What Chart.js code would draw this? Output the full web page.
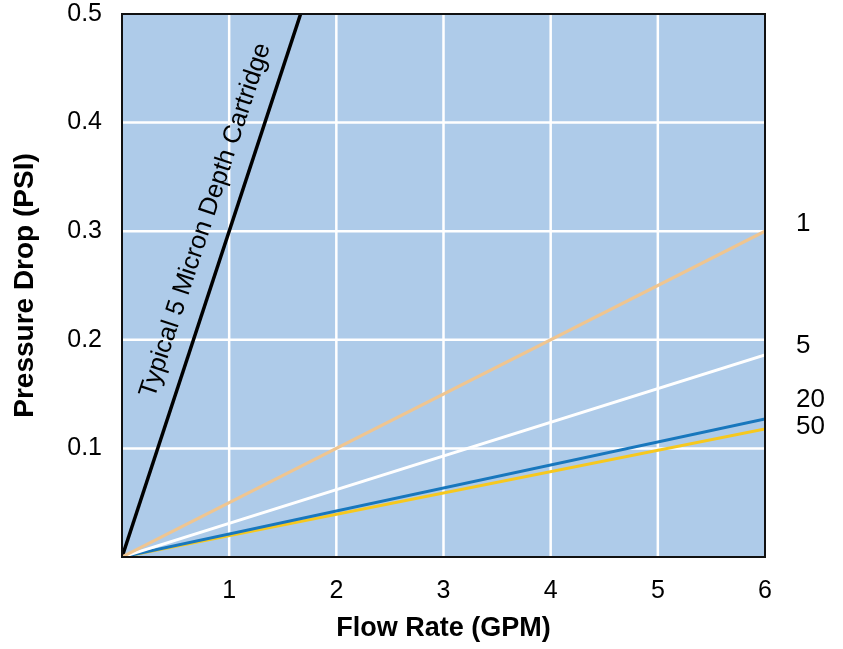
<!DOCTYPE html>
<html>
<head>
<meta charset="utf-8">
<script src="https://cdn.jsdelivr.net/npm/chart.js@4.4.1/dist/chart.umd.min.js"></script>
<style>
html,body{margin:0;padding:0;background:#fff;}
#wrap{width:843px;height:649px;}
</style>
</head>
<body>
<div id="wrap"><canvas id="c" width="843" height="649"></canvas></div>
<script>
// ---- data ----
const flowRate = [0, 6];                       // GPM
const seriesNames = ['1', '5', '20', '50'];    // micron ratings
const series1 = [0, 0.300];
const series5 = [0, 0.186];
const series20 = [0, 0.127];
const series50 = [0, 0.118];
const depthFlow = [0, 5 / 3];
const depthPressure = [0, 0.5];
const depthLabel = 'Typical 5 Micron Depth Cartridge';
const seriesLabelValues = [0.307, 0.194, 0.145, 0.120];
const xTickLabels = ['', '1', '2', '3', '4', '5', '6'];
const yTickLabels = ['', '0.1', '0.2', '0.3', '0.4', '0.5'];

const FONT = "'Liberation Sans', Arial, Helvetica, sans-serif";
const toPts = (xs, ys) => xs.map((x, i) => ({x: x, y: ys[i]}));

const seriesColors = ['#efc590', '#ffffff', '#1877bd', '#f6c81e'];
const seriesData = [series1, series5, series20, series50];

const datasets = seriesData.map((d, i) => ({
  label: seriesNames[i],
  data: toPts(flowRate, d),
  borderColor: seriesColors[i],
  borderWidth: 3,
  pointRadius: 0,
  showLine: true,
  fill: false
}));
datasets.push({
  label: depthLabel,
  data: toPts(depthFlow, depthPressure),
  borderColor: '#000000',
  borderWidth: 3.5,
  pointRadius: 0,
  showLine: true,
  fill: false
});

const decor = {
  id: 'decor',
  beforeDatasetsDraw(chart) {
    const {ctx, chartArea: a} = chart;
    ctx.save();
    ctx.fillStyle = '#aecbe9';
    ctx.fillRect(a.left, a.top, a.right - a.left, a.bottom - a.top);
    // grid
    const xs = chart.scales.x, ys = chart.scales.y;
    ctx.strokeStyle = '#ffffff';
    ctx.lineWidth = 2.5;
    for (let v = 1; v < 6; v++) {
      const px = xs.getPixelForValue(v);
      ctx.beginPath(); ctx.moveTo(px, a.top); ctx.lineTo(px, a.bottom); ctx.stroke();
    }
    for (let v = 1; v < 5; v++) {
      const py = ys.getPixelForValue(v / 10);
      ctx.beginPath(); ctx.moveTo(a.left, py); ctx.lineTo(a.right, py); ctx.stroke();
    }
    ctx.restore();
  },
  afterDatasetsDraw(chart) {
    const {ctx, chartArea: a} = chart;
    const xs = chart.scales.x, ys = chart.scales.y;
    ctx.save();
    ctx.strokeStyle = '#111';
    ctx.lineWidth = 2;
    ctx.strokeRect(a.left, a.top, a.right - a.left, a.bottom - a.top);
    // series labels on right
    ctx.fillStyle = '#000';
    ctx.font = '26px ' + FONT;
    ctx.textAlign = 'left';
    ctx.textBaseline = 'middle';
    seriesNames.forEach((n, i) => {
      ctx.fillText(n, a.right + 31, ys.getPixelForValue(seriesLabelValues[i]));
    });
    // rotated depth cartridge label
    const x0 = xs.getPixelForValue(depthFlow[0]), y0 = ys.getPixelForValue(depthPressure[0]);
    const x1 = xs.getPixelForValue(depthFlow[1]), y1 = ys.getPixelForValue(depthPressure[1]);
    const ang = Math.atan2(y1 - y0, x1 - x0);
    const cx = xs.getPixelForValue(0.78), cy = ys.getPixelForValue(0.31);
    ctx.translate(cx, cy);
    ctx.rotate(ang);
    ctx.font = '25.5px ' + FONT;
    ctx.textAlign = 'center';
    ctx.textBaseline = 'middle';
    ctx.fillText(depthLabel, 0, 0);
    ctx.restore();
  }
};

new Chart(document.getElementById('c'), {
  type: 'scatter',
  data: {datasets},
  plugins: [decor],
  options: {
    responsive: false,
    animation: false,
    devicePixelRatio: 1,
    layout: {padding: {left: 8, right: 78, top: 14, bottom: 4}},
    plugins: {legend: {display: false}, tooltip: {enabled: false}},
    scales: {
      x: {
        type: 'linear', min: 0, max: 6,
        grid: {display: false, drawTicks: false},
        border: {display: false},
        ticks: {
          stepSize: 1, padding: 19, color: '#000',
          font: {family: FONT, size: 25},
          callback: (v) => xTickLabels[Math.round(v)] ?? ''
        },
        title: {display: true, text: 'Flow Rate (GPM)', color: '#000',
          font: {family: FONT, size: 27, weight: 'bold'}, padding: {top: 0, bottom: 0}},
        afterFit(s) { s.height = 649 - 557 - 4; s.paddingLeft = 0; s.paddingRight = 0; }
      },
      y: {
        type: 'linear', min: 0, max: 0.5,
        grid: {display: false, drawTicks: false},
        border: {display: false},
        ticks: {
          stepSize: 0.1, padding: 20, color: '#000',
          font: {family: FONT, size: 25},
          callback: (v) => yTickLabels[Math.round(v * 10)] ?? ''
        },
        title: {display: true, text: 'Pressure Drop (PSI)', color: '#000',
          font: {family: FONT, size: 28, weight: 'bold'}, padding: {top: 0, bottom: 0}},
        afterFit(s) { s.width = 122 - 8; s.paddingTop = 0; s.paddingBottom = 0; }
      }
    }
  }
});
</script>
</body>
</html>
